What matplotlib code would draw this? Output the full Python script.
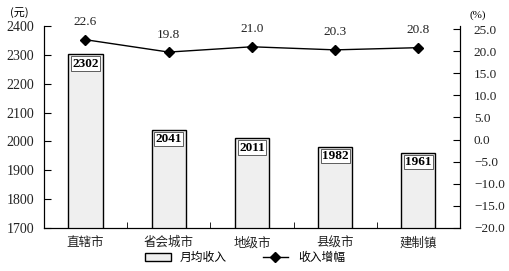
import matplotlib
matplotlib.use('agg')
import matplotlib.pyplot as plt
from matplotlib.lines import Line2D
from matplotlib.patches import Patch

plt.rcParams['font.family'] = ['Liberation Serif', 'Noto Sans CJK SC']
plt.rcParams['axes.unicode_minus'] = True

categories = ['直辖市', '省会城市', '地级市', '县级市', '建制镇']
income = [2302, 2041, 2011, 1982, 1961]
growth = [22.6, 19.8, 21.0, 20.3, 20.8]
left_ticks = [1700, 1800, 1900, 2000, 2100, 2200, 2300, 2400]
right_ticks = [-20.0, -15.0, -10.0, -5.0, 0.0, 5.0, 10.0, 15.0, 20.0, 25.0]

fig = plt.figure(figsize=(5.1, 2.71), dpi=100)
ax = fig.add_axes([0.086, 0.159, 0.816, 0.745])
x = list(range(len(categories)))

ax.bar(x, income, width=0.41, bottom=0, color='#efefef', edgecolor='black', linewidth=1.0)
for xi, v in zip(x, income):
    ax.text(xi, v - 12, str(v), ha='center', va='top', fontsize=9.5, fontweight='bold',
            bbox=dict(boxstyle='square,pad=0.1', fc='white', ec='#444444', lw=0.6))

ax.set_ylim(1700, 2400)
ax.set_xlim(-0.5, 4.5)
ax.set_yticks(left_ticks)
ax.set_yticklabels([str(t) for t in left_ticks], fontsize=10, color='#222222')
ax.set_xticks(x)
ax.set_xticklabels(categories, fontsize=9, family=['Noto Sans CJK SC'], color='#222222')
ax.tick_params(axis='x', length=0, pad=6)
ax.set_xticks([0.5, 1.5, 2.5, 3.5], minor=True)
ax.tick_params(axis='x', which='minor', direction='in', length=4)
ax.tick_params(axis='y', direction='in', length=5, pad=7)
ax.spines['top'].set_visible(False)

ax2 = ax.twinx()
ax2.plot(x, growth, color='black', lw=1.0, marker='D', ms=5)
for xi, g in zip(x, growth):
    ax2.text(xi, g + 2.6, '%.1f' % g, ha='center', va='bottom', fontsize=9.5, color='#222222')
ax2.set_ylim(-20, 25.7)
ax2.set_yticks(right_ticks)
ax2.set_yticklabels([('%.1f' % t).replace('-', '\u2212') for t in right_ticks], fontsize=9.5,
                    color='#222222')
ax2.tick_params(axis='y', direction='in', length=5, pad=10)
ax2.spines['top'].set_visible(False)

fig.text(0.02, 0.955, '(元)', fontsize=8, family=['Noto Sans CJK SC'], va='center')
fig.text(0.92, 0.945, '(%)', fontsize=8, va='center')

handles = [Patch(facecolor='#efefef', edgecolor='black', lw=1.0),
           Line2D([], [], color='black', lw=1.0, marker='D', ms=5)]
leg = fig.legend(handles, ['月均收入', '收入增幅'], loc='center', bbox_to_anchor=(0.48, 0.05),
                 ncol=2, frameon=False, columnspacing=3.0, handlelength=2.2,
                 prop={'family': 'Noto Sans CJK SC', 'size': 8.5})

fig.savefig('out.png', dpi=100)
